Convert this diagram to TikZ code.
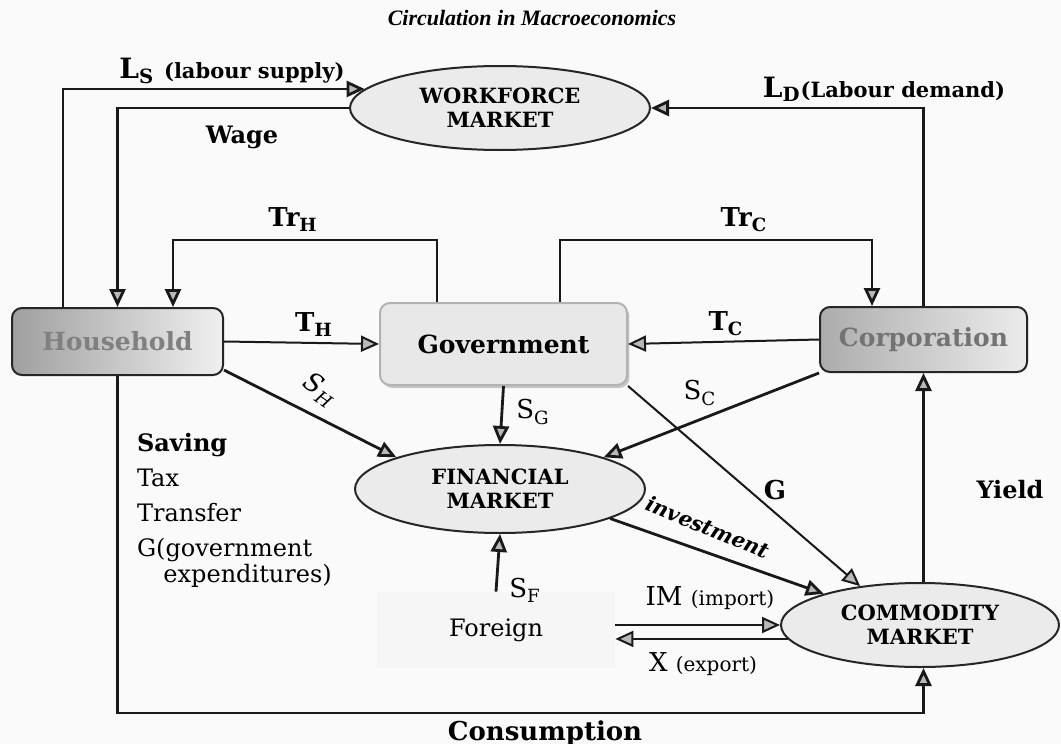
\documentclass[tikz,border=0pt]{standalone}
\usepackage{fontspec}
\setmainfont{DejaVu Serif}
\newfontfamily\titlefont{Liberation Serif}
\usetikzlibrary{arrows.meta,shapes.geometric,calc,shadows}
\begin{document}
\begin{tikzpicture}[x=0.5pt,y=-0.5pt]
      \tikzset{agent/.style={draw=black!85, line width=1pt, rounded corners=5pt, inner sep=0pt, font=\fontsize{12.5}{15}\selectfont\bfseries},
               market/.style={ellipse, draw=black!85, line width=1pt, fill=gray!16, inner sep=0pt, align=center, font=\fontsize{10.5}{12}\selectfont\bfseries},
               flow/.style={line width=1.4pt, draw=black!90, -{Triangle[length=9pt,width=8pt,fill=gray!55]}},
               tag/.style={font=\fontsize{12}{14}\selectfont\bfseries}}
      \fill[gray!4] (0,0) rectangle (1061,744);
      \useasboundingbox (0,0) rectangle (1061,744);
%% Agents and markets
      	\node[agent, minimum width=105.5pt, minimum height=33.5pt, left color=gray!75, right color=gray!12, text=black!50] (hh) at (117.5,341.5) {Household};
      	\node[agent, minimum width=123.5pt, minimum height=41pt, fill=gray!18, draw=gray!60,
      	      drop shadow={shadow xshift=1.2pt, shadow yshift=-1.5pt, fill=gray!55, opacity=0.8}] (gov) at (503.5,344) {Government};
      	\node[agent, minimum width=103.5pt, minimum height=32.5pt, left color=gray!65, right color=gray!15, text=black!55] (corp) at (923.5,339.5) {Corporation};
      	\node[market, minimum width=150pt, minimum height=42pt] (wf) at (500,108) {WORKFORCE\\MARKET};
      	\node[market, minimum width=145pt, minimum height=44pt] (fin) at (500,489) {FINANCIAL\\MARKET};
      	\node[market, minimum width=139pt, minimum height=42pt] (com) at (920,625) {COMMODITY\\MARKET};
      	\node[tag, fill=gray!7, minimum width=119pt, minimum height=38pt, font=\fontsize{12}{14}\selectfont] (foreign) at (496,630) {Foreign};
%% Bends
      	\coordinate (ls) at (63,90);
      	\coordinate (trhl) at (437,240);
      	\coordinate (trhr) at (173,240);
      	\coordinate (trcl) at (560,240);
      	\coordinate (trcr) at (872,240);
      	\coordinate (cons) at (530,713);
%Flows
		\draw[flow] (hh.north -| ls) |- (wf.172);
		\draw[flow] (wf.west) -| (hh.north);
		\draw[flow] (gov.north -| trhl) -- (trhl) -- (trhr) -- (hh.north -| trhr);
		\draw[flow] (gov.north -| trcl) -- (trcl) -- (trcr) -- (corp.north -| trcr);
		\draw[flow] (corp.north) |- (wf.east);
		\draw[flow, line width=1pt] (hh.east) -- (gov.west);
		\draw[flow, line width=1pt] (corp.west) -- (gov.east);
		\draw[flow] (hh.-15) -- (fin.163);
		\draw[flow] (gov.south) -- (fin.north);
		\draw[flow] (corp.south west) -- (fin.17);
		\draw[flow, line width=1pt] (gov.south east) -- (com.147);
		\draw[flow] (fin.-15) -- (com.162);
		\draw[flow] (foreign.north) -- (fin.south);
		\draw[flow, line width=1pt] (foreign.east |- com.west) -- (com.west);
		\draw[flow, line width=1pt] (com.186) -- (foreign.east |- com.186);
		\draw[flow] (corp.south |- com.north) -- (corp.south);
		\draw[flow] (hh.south) |- (cons) -| (corp.south |- com.south);
%Labels
		\node[tag, font=\fontsize{11}{13}\selectfont\titlefont\bfseries\itshape] (title) at (532,18) {Circulation in Macroeconomics};
		\node[tag] (lsl) at (232,71) {\fontsize{14}{16}\selectfont L\textsubscript{S} \fontsize{10.5}{12}\selectfont(labour supply)};
		\node[tag] (wage) at (242,137) {Wage};
		\node[tag] (ldl) at (884,89) {\fontsize{14}{16}\selectfont L\textsubscript{D}\fontsize{10.5}{12}\selectfont(Labour demand)};
		\node[tag, font=\fontsize{13}{15}\selectfont\bfseries] (trh) at (293,220) {Tr\textsubscript{H}};
		\node[tag, font=\fontsize{13}{15}\selectfont\bfseries] (trc) at (744,220) {Tr\textsubscript{C}};
		\node[tag, font=\fontsize{13}{15}\selectfont\bfseries] (th) at (314,325) {T\textsubscript{H}};
		\node[tag, font=\fontsize{13}{15}\selectfont\bfseries] (tc) at (726,324) {T\textsubscript{C}};
		\node[tag, font=\fontsize{13}{15}\selectfont\itshape, rotate=-35, inner sep=1pt] (sh) at (320,390) {S\textsubscript{H}};
		\node[tag, font=\fontsize{13}{15}\selectfont] (sg) at (533,412) {S\textsubscript{G}};
		\node[tag, font=\fontsize{13}{15}\selectfont] (sc) at (700,393) {S\textsubscript{C}};
		\node[tag, font=\fontsize{13}{15}\selectfont\bfseries] (gl) at (775,490) {G};
		\node[tag, font=\fontsize{10.5}{12}\selectfont\bfseries\itshape, rotate=-22, inner sep=1pt] (inv) at (708,527) {investment};
		\node[tag, font=\fontsize{13}{15}\selectfont] (sf) at (525,590) {S\textsubscript{F}};
		\node[tag] (yield) at (1010,490) {Yield};
		\node[tag, font=\fontsize{13}{15}\selectfont] (im) at (710,598) {IM \fontsize{10}{12}\selectfont(import)};
		\node[tag, font=\fontsize{13}{15}\selectfont] (ex) at (703,664) {X \fontsize{10}{12}\selectfont(export)};
		\node[tag, font=\fontsize{13}{15}\selectfont\bfseries] (cl) at (545,733) {Consumption};
		\node[tag, font=\fontsize{12}{17.5}\selectfont, align=left, anchor=north west] (notes) at (130,426) {\textbf{Saving}\\Tax\\Transfer\\G(government\\[-4.5pt]\hspace{1.1em}expenditures)};
	\end{tikzpicture}
\end{document}
